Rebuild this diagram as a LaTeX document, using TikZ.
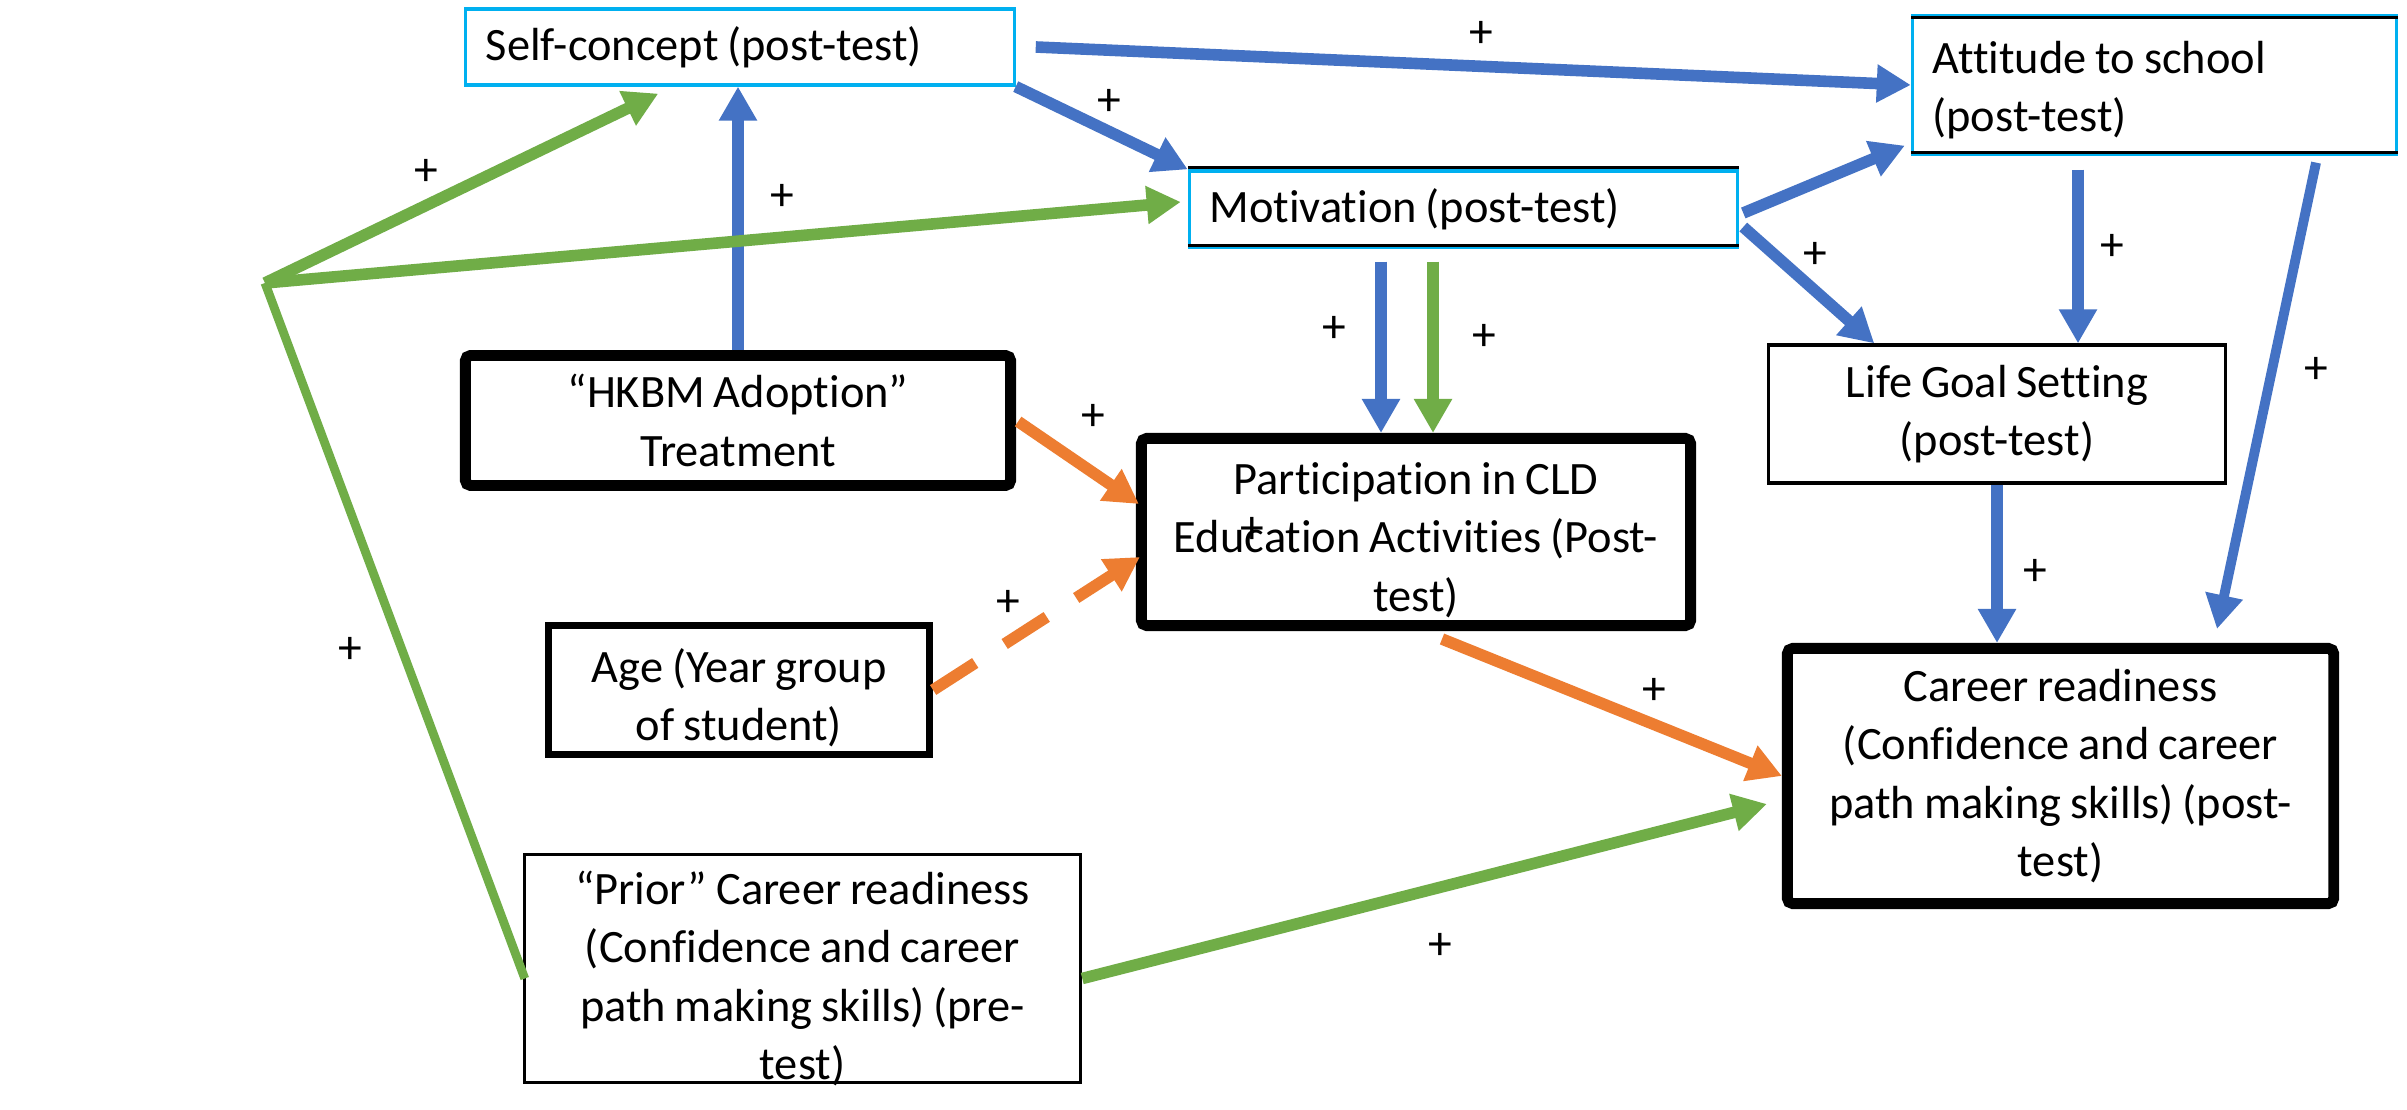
\documentclass[tikz,border=0pt]{standalone}
\usepackage{fontspec}
\setmainfont{Carlito}[Ligatures={NoCommon}, WordSpace={0.85}]
\usetikzlibrary{arrows.meta,calc}
\definecolor{linkblue}{HTML}{4472C4}
\definecolor{linkgreen}{HTML}{70AD47}
\definecolor{linkorange}{HTML}{ED7D31}
\definecolor{framecyan}{HTML}{00B0F0}

\begin{document}
\begin{tikzpicture}[x=0.01cm,y=-0.01cm,
  every node/.style={font=\fontsize{13.2pt}{16.6pt}\selectfont, inner sep=0pt},
  cyanbox/.style={draw=framecyan, line width=0.9pt, inner xsep=0.2cm, align=flush left},
  thinbox/.style={draw=black, line width=0.9pt, align=center},
  midbox/.style={draw=black, line width=2pt, align=center},
  heavybox/.style={draw=black, line width=3.1pt, rounded corners=1.5pt, align=center},
  caption/.style={align=center},
  edgeline/.style={draw=black, line width=0.7pt},
  tip/.style={-{Triangle[width=0.36cm,length=0.34cm]}},
  bluelink/.style={draw=linkblue, line width=3.3pt, tip},
  greenlink/.style={draw=linkgreen, line width=3.3pt, tip},
  orangelink/.style={draw=linkorange, line width=3.3pt, tip},
  plus/.style={font=\fontsize{13.5pt}{16pt}\selectfont}
]
\fill[white] (0,0) rectangle (2407,1110);
\useasboundingbox (0,0) rectangle (2407,1110);

% variables and outcomes
\node[cyanbox, minimum height=0.76cm, text width=5.08cm] (sc) at (740,47) {Self-concept (post-test)};
\node[cyanbox, minimum height=0.76cm, text width=5.08cm] (mot) at (1463.5,209) {Motivation (post-test)};
\node[cyanbox, minimum width=4.84cm, minimum height=1.38cm] (att) at (2154.5,85) {};
\node[anchor=west, align=flush left] (atttxt) at ($(att.west)+(21,5)$) {Attitude to school\\(post-test)};
\node[thinbox, minimum width=4.56cm, minimum height=1.38cm] (lg) at (1997,414) {Life Goal Setting\\(post-test)};
\node[heavybox, minimum width=5.45cm, minimum height=1.30cm] (hkbm) at (738,420.5) {“HKBM Adoption”\\Treatment};
\node[heavybox, minimum width=5.49cm, minimum height=1.87cm] (part) at (1416,532) {};
\node[caption] (parttxt) at ($(part.center)+(0,8)$) {Participation in CLD\\Education Activities (Post-\\test)};
\node[midbox, minimum width=3.81cm, minimum height=1.29cm] (age) at (739,690) {};
\node[caption] (agetxt) at ($(age.center)+(0,8)$) {Age (Year group\\of student)};
\node[thinbox, minimum width=5.56cm, minimum height=2.28cm] (prior) at (802.5,968.5) {};
\node[caption] (priortxt) at ($(prior.center)+(0,10)$) {“Prior” Career readiness\\(Confidence and career\\path making skills) (pre-\\test)};
\node[heavybox, minimum width=5.46cm, minimum height=2.55cm] (cr) at (2060.5,776) {Career readiness\\(Confidence and career\\path making skills) (post-\\test)};

% dark rules inside the cyan frames
\draw[edgeline] ($(mot.north west)+(0,-2)$) -- ($(mot.north east)+(0,-2)$);
\draw[edgeline] ($(mot.south west)+(0,-3)$) -- ($(mot.south east)+(0,-3)$);
\draw[edgeline] ($(att.north west)+(0,3)$) -- ($(att.north east)+(0,3)$);
\draw[edgeline] ($(att.south west)+(0,-3)$) -- ($(att.south east)+(0,-3)$);

% prior attainment branch point
\coordinate (apex) at (265,283);

% blue paths
\draw[bluelink] ($(sc.east)+(20,0)$) -- (att.west);
\draw[bluelink] (sc.south east) -- (mot.north west);
\draw[bluelink] (hkbm.north) -- (hkbm.north |- sc.south);
\draw[bluelink] ($(mot.east)+(4,4)$) -- ($(att.south west)+(-6,-10)$);
\draw[bluelink] ($(mot.east)+(4,18)$) -- ($(lg.north west)+(107,0)$);
\draw[bluelink] ($(mot.south)+(-82.5,13)$) -- ($(part.north)+(-35,0)$);
\draw[bluelink] ($(att.south)+(-76.5,14)$) -- ($(lg.north)+(81,0)$);
\draw[bluelink, line width=2.8pt] ($(att.south)+(161.5,7)$) -- ($(cr.north)+(156.5,-14)$);
\draw[bluelink] (lg.south) -- (lg.south |- cr.north);

% green paths
\draw[greenlink] ($(mot.south)+(-30.5,13)$) -- ($(part.north)+(17,0)$);
\draw[greenlink] (apex) -- ($(sc.south west)+(194,7)$);
\draw[greenlink] (apex) -- ($(mot.west)+(-7,-7)$);
\draw[draw=linkgreen, line width=2.5pt] (apex) -- ($(prior.west)+(2,10)$);
\draw[greenlink] ($(prior.east)+(0,10)$) -- ($(cr.west)+(-15,28)$);

% orange paths
\draw[orangelink] ($(hkbm.east)+(2,1)$) -- ($(part.west)+(3,-28)$);
\draw[orangelink, dash pattern=on 0.5cm off 0.35cm] (age.east) -- ($(part.west)+(4,25)$);
\draw[orangelink] ($(part.south)+(26,8)$) -- (cr.west);

% signs
\node[plus] (s1) at (1481,34) {+};
\node[plus] (s2) at (1109,102) {+};
\node[plus] (s3) at (782,197) {+};
\node[plus] (s4) at (426,172) {+};
\node[plus] (s5) at (350,650) {+};
\node[plus] (s6) at (1815,255) {+};
\node[plus] (s7) at (1334,329) {+};
\node[plus] (s8) at (1484,337) {+};
\node[plus] (s9) at (2112,247) {+};
\node[plus] (s10) at (2316,370) {+};
\node[plus] (s11) at (2035,572) {+};
\node[plus] (s12) at (1093,417) {+};
\node[plus] (s13) at (1008,603) {+};
\node[plus] (s14) at (1654,691) {+};
\node[plus] (s15) at (1440,946) {+};
\node[plus] (s16) at (1252,530) {+};
\end{tikzpicture}
\end{document}
